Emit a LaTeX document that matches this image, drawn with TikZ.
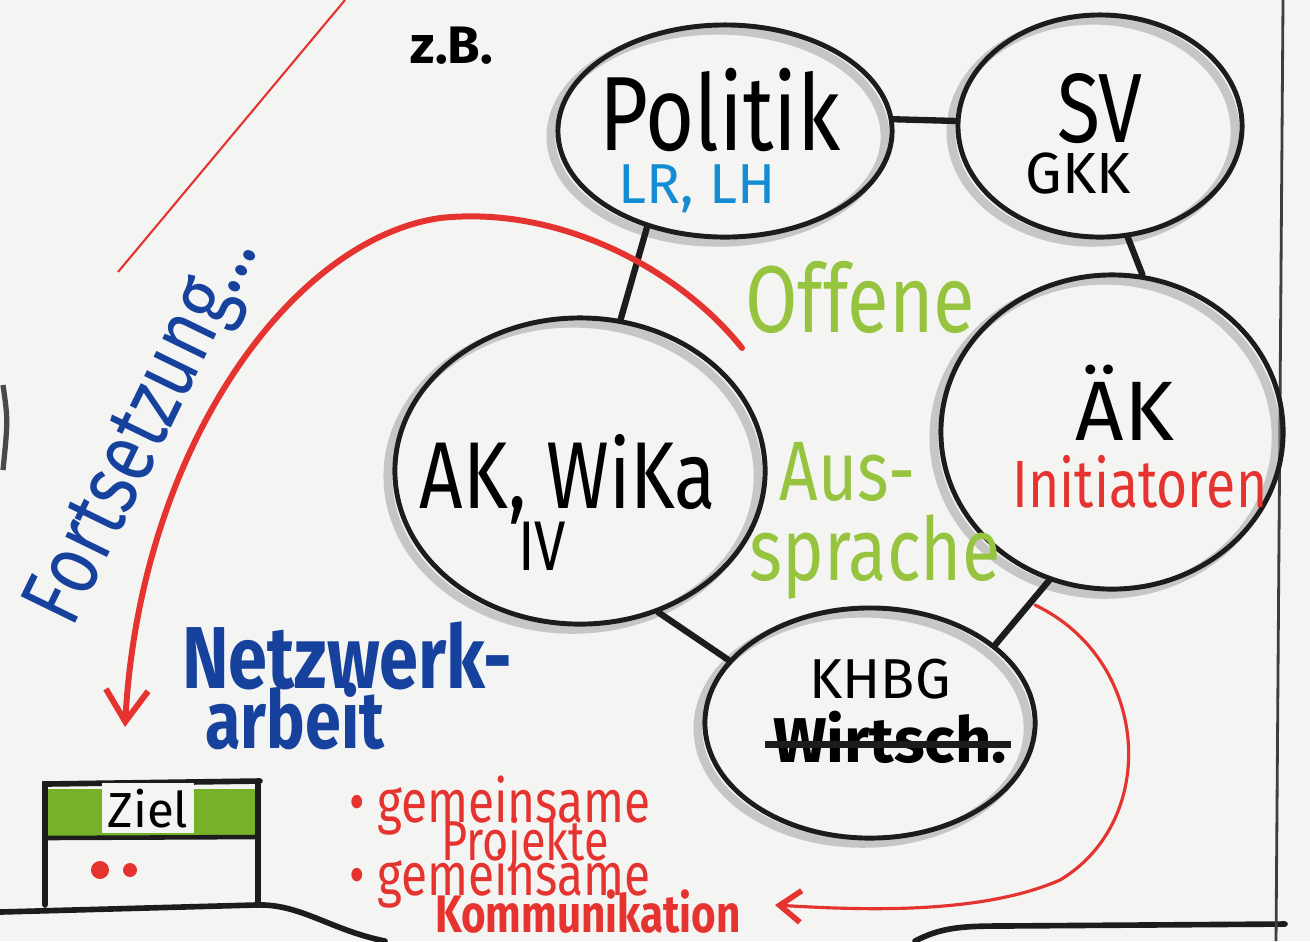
\documentclass[tikz,border=0pt]{standalone}
\usepackage{fontspec}
\newfontfamily\hand[FakeStretch=0.8]{Fira Sans}
\newfontfamily\handn{Fira Sans}
\usetikzlibrary{shapes.geometric,arrows.meta,shadows}
\definecolor{paper}{RGB}{244,244,243}
\definecolor{ink}{RGB}{28,28,28}
\definecolor{mred}{RGB}{229,52,48}
\definecolor{mblue}{RGB}{22,66,158}
\definecolor{lblue}{RGB}{20,140,210}
\definecolor{mgreen}{RGB}{150,196,62}
\definecolor{zgreen}{RGB}{118,178,40}
\begin{document}
\begin{tikzpicture}[x=0.01cm,y=-0.01cm,
  bubble/.style={ellipse, draw=ink, line width=1.4pt, inner sep=0pt,
     drop shadow={shadow xshift=-2pt, shadow yshift=-1.5pt, fill=none, draw=black!40, line width=2.5pt, opacity=0.5}},
  link/.style={ink, line width=1.8pt, line cap=round},
  txt/.style={inner sep=0pt, anchor=base},
  edge/.style={ink, line width=1.6pt, line cap=round},
  redarrow/.style={mred, line width=1.7pt, line cap=round, -{Straight Barb[length=9pt,width=12pt]}},
  redthin/.style={mred, line width=0.9pt, line cap=round, -{Straight Barb[length=6pt,width=9pt,line width=1.6pt]}}
]
\useasboundingbox (0,0) rectangle (1310,941);
\fill[paper] (0,0) rectangle (1310,941);

% paper edges
\draw[edge] (0,912) -- (255,905) .. controls (300,903) and (330,930) .. (385,941);
\draw[edge] (915,941) .. controls (940,928) and (960,926) .. (1000,926) -- (1285,924);
\draw[ink!85, line width=0.8pt] (1283,0) -- (1276,941);
\draw[ink!80, line width=1.5pt] (3,385) .. controls (8,420) .. (3,470);

% thin red line
\draw[mred, line width=0.6pt] (118,272) -- (345,0);

% bubbles
\node[bubble, minimum width=3.34cm, minimum height=2.12cm] (pol) at (725,131) {};
\node[bubble, minimum width=2.84cm, minimum height=2.22cm] (sv) at (1100,126) {};
\node[bubble, minimum width=3.42cm, minimum height=3.14cm] (aek) at (1112,432) {};
\node[bubble, minimum width=3.7cm, minimum height=3.06cm] (ak) at (580,471) {};
\node[bubble, minimum width=3.3cm, minimum height=2.3cm] (khbg) at (870,723) {};

% connectors
\draw[link] (pol.4) -- (sv.178);
\draw[link] (pol.-129) -- (ak.75);
\draw[link] (sv.-76) -- (aek.79);
\draw[link] (aek.-113) -- (khbg.32);
\draw[link] (ak.-61) -- (khbg.156);

% bubble texts
\node[txt, font=\hand\fontsize{30}{30}\selectfont] (poltxt) at (720,150) {Politik};
\node[txt, text=lblue, font=\handn\fontsize{16}{16}\selectfont] (lrlh) at (697,203) {LR, LH};
\node[txt, font=\hand\fontsize{28}{28}\selectfont] (svtxt) at (1100,142) {SV};
\node[txt, font=\handn\fontsize{16.5}{16.5}\selectfont] (gkk) at (1078,193) {GKK};
\node[txt, font=\hand\fontsize{27}{27}\selectfont] (aktxt) at (568,508) {AK, WiKa};
\node[txt, font=\hand\fontsize{20}{20}\selectfont] (iv) at (542,570) {IV};
\node[txt, font=\handn\fontsize{24}{24}\selectfont] (aektxt) at (1125,440) {ÄK};
\node[txt, text=mred, font=\hand\fontsize{19}{19}\selectfont] (init) at (1140,507) {Initiatoren};
\node[txt, font=\handn\fontsize{16}{16}\selectfont] (khbgtxt) at (880,698) {KHBG};
\node[txt, font=\handn\bfseries\fontsize{18}{18}\selectfont] (wir) at (890,762) {Wirtsch.};
\draw[ink, line width=2pt] ([xshift=-2pt,yshift=5pt]wir.base west) -- ([xshift=1pt,yshift=5pt]wir.base east);

% green texts
\node[txt, text=mgreen, font=\hand\fontsize{27}{27}\selectfont] (offene) at (860,332) {Offene};
\node[txt, text=mgreen, font=\hand\fontsize{24}{24}\selectfont] (aus) at (848,500) {Aus-};
\node[txt, text=mgreen, font=\hand\fontsize{25}{25}\selectfont] (sprache) at (875,580) {sprache};

% z.B.
\node[txt, font=\handn\bfseries\fontsize{15}{15}\selectfont] (zb) at (452,63) {z.B.};

% blue texts
\node[txt, text=mblue, rotate=64, font=\hand\fontsize{25}{25}\selectfont] (forts) at (165,440) {Fortsetzung...};
\node[txt, text=mblue, font=\hand\bfseries\fontsize{25}{25}\selectfont] (netz) at (347,688) {Netzwerk-};
\node[txt, text=mblue, font=\hand\bfseries\fontsize{23}{23}\selectfont] (arbeit) at (295,748) {arbeit};

% red curves
\coordinate (r1s) at (742,348);
\coordinate (r1m) at (440,218);
\coordinate (r1e) at (125,727);
\draw[redarrow] (r1s) .. controls (680,270) and (560,205) .. (r1m) .. controls (290,240) and (140,450) .. (r1e);
\coordinate (r2s) at (1035,605);
\coordinate (r2m) at (1060,880);
\coordinate (r2e) at (775,905);
\draw[redthin] (r2s) .. controls (1150,660) and (1160,820) .. (r2m) .. controls (980,915) and (860,910) .. (r2e);

% Ziel box
\fill[zgreen] (47,789) rectangle (255,836);
\draw[edge] (45,905) -- (45,784) -- (260,781);
\draw[edge] (258,781) -- (258,902);
\draw[ink, line width=1.3pt] (45,838) -- (255,837);
\node[txt, fill=paper, inner sep=1.5pt, font=\handn\fontsize{14}{14}\selectfont] (ziel) at (148,827) {Ziel};
\fill[mred] (100,870) circle (9);
\fill[mred] (130,870) circle (7);

% red list
\node[txt, text=mred, font=\hand\fontsize{17}{17}\selectfont] (gem1) at (500,822) {• gemeinsame};
\node[txt, text=mred, font=\hand\fontsize{16}{16}\selectfont] (proj) at (525,860) {Projekte};
\node[txt, text=mred, font=\hand\fontsize{17}{17}\selectfont] (gem2) at (500,895) {• gemeinsame};
\node[txt, text=mred, font=\hand\bfseries\fontsize{15}{15}\selectfont] (komm) at (588,932) {Kommunikation};
\end{tikzpicture}
\end{document}
